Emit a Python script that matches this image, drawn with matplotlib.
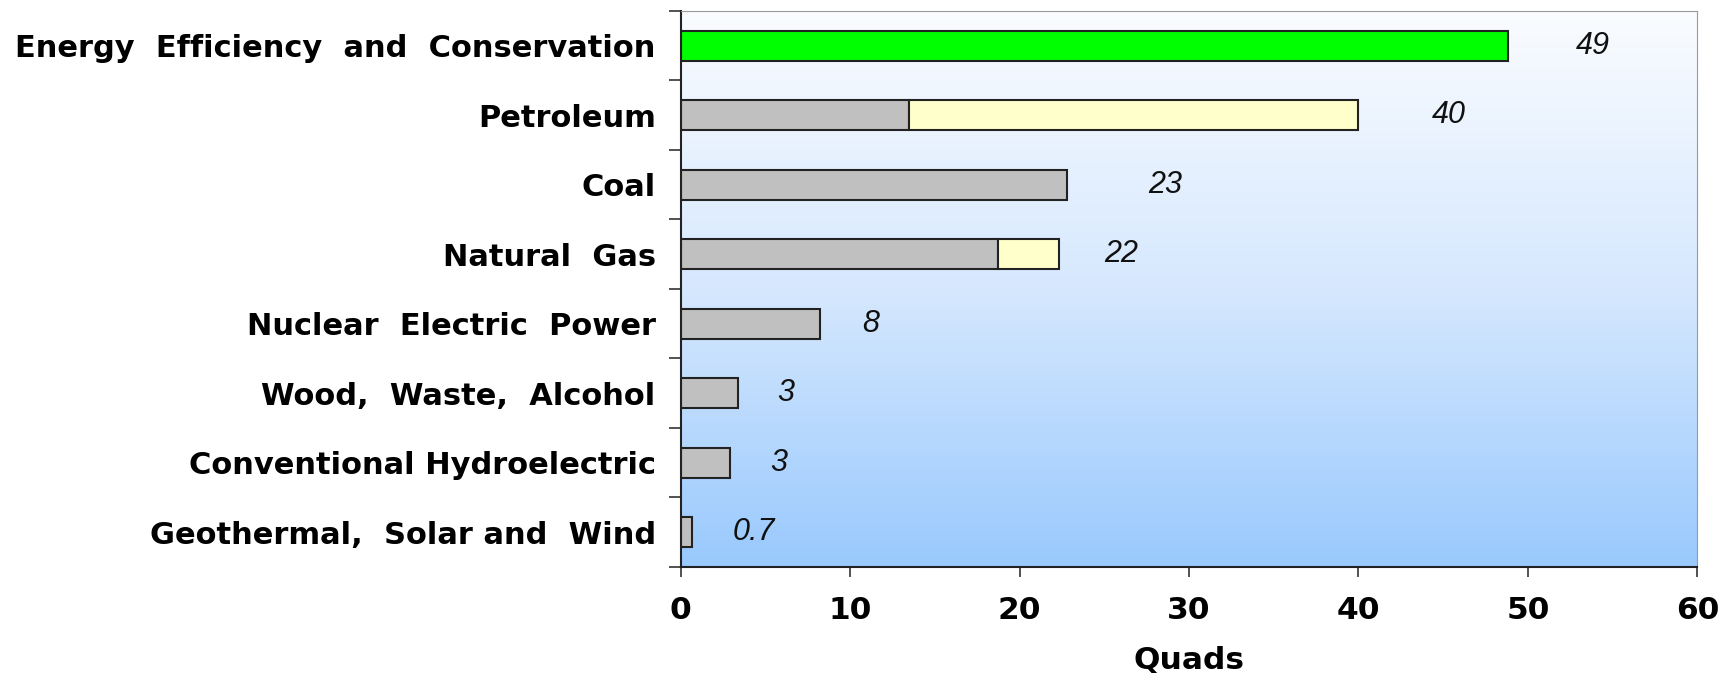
import matplotlib.pyplot as plt
import numpy as np
from matplotlib.colors import LinearSegmentedColormap

# data, top row first
categories = ['Energy  Efficiency  and  Conservation', 'Petroleum', 'Coal',
              'Natural  Gas', 'Nuclear  Electric  Power', 'Wood,  Waste,  Alcohol',
              'Conventional Hydroelectric', 'Geothermal,  Solar and  Wind']
base = [48.8, 13.5, 22.8, 18.7, 8.2, 3.4, 2.9, 0.65]
extra = [0, 26.5, 0, 3.6, 0, 0, 0, 0]
value_labels = ['49', '40', '23', '22', '8', '3', '3', '0.7']

# styling
base_colors = ['#00ff00'] + ['#c0c0c0'] * 7
extra_color = '#ffffcc'
label_pad = [4.0, 4.3, 4.8, 2.7, 2.5, 2.3, 2.4, 2.4]

plt.rcParams['font.family'] = ['DejaVu Sans']

fig = plt.figure(figsize=(17.32, 6.75), dpi=100)
ax = fig.add_axes([0.393, 0.16, 0.587, 0.824])

# vertical gradient background
cmap = LinearSegmentedColormap.from_list('bg', ['#99c9fd', '#d6e8fe', '#fafcff'])
grad = np.linspace(0, 1, 256).reshape(-1, 1)
ax.imshow(grad, cmap=cmap, origin='lower', aspect='auto',
          extent=[0, 1, 0, 1], transform=ax.transAxes, zorder=0)

y = np.arange(len(categories))[::-1]
ax.barh(y, base, height=0.43, color=base_colors, edgecolor='#222222',
        linewidth=1.5, zorder=2)
ext = ax.barh(y, extra, left=base, height=0.43, color=extra_color,
              edgecolor='#222222', linewidth=1.5, zorder=2)
# zero-width segments would leave a stray edge line
for p, e in zip(ext, extra):
    if e == 0:
        p.set_visible(False)

for yi, b, e, lab, pad in zip(y, base, extra, value_labels, label_pad):
    ax.text(b + e + pad, yi, lab, ha='left', va='center', fontsize=22,
            style='italic', fontweight='light', family=['Liberation Sans'],
            color='#111111', zorder=3)

ax.set_xlim(0, 60)
ax.set_ylim(-0.5, len(categories) - 0.5)
ax.set_xticks(np.arange(0, 61, 10))
ax.set_yticks(y)
ax.set_yticklabels(categories, fontsize=22, fontweight='bold')
ax.set_yticks(np.arange(-0.5, len(categories), 1), minor=True)
ax.tick_params(axis='y', which='major', length=0, pad=18)
ax.tick_params(axis='y', which='minor', length=9, width=1.2, direction='out',
               color='#333333')
ax.tick_params(axis='x', length=7, width=1.2, direction='out', pad=14,
               labelsize=22.5, color='#333333')
for t in ax.get_xticklabels():
    t.set_fontweight('bold')

ax.set_xlabel('Quads', fontsize=22.5, fontweight='bold', labelpad=15)

ax.spines['left'].set_color('#222222')
ax.spines['bottom'].set_color('#222222')
ax.spines['left'].set_linewidth(1.5)
ax.spines['bottom'].set_linewidth(1.5)
ax.spines['top'].set_color('#999999')
ax.spines['right'].set_color('#999999')

fig.savefig('out.png', dpi=100)
